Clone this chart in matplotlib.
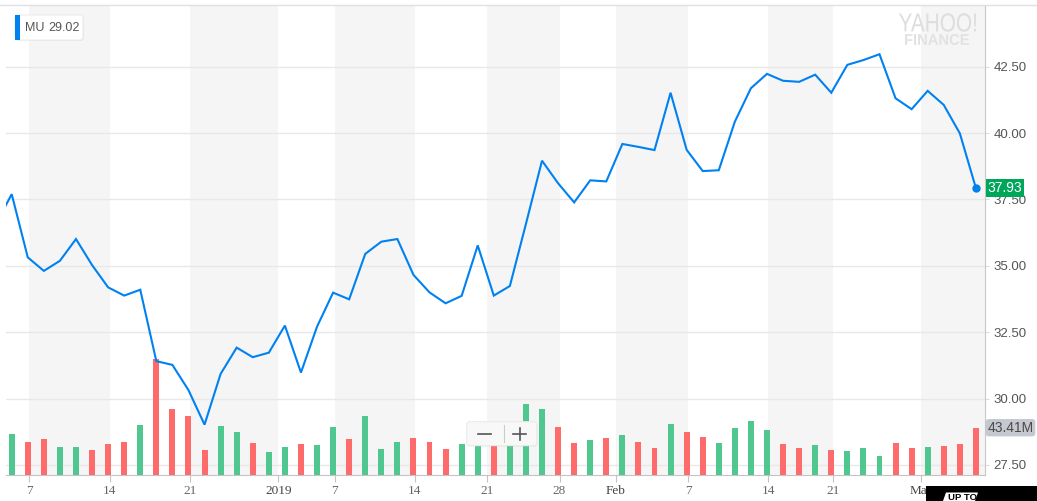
import matplotlib
matplotlib.use("Agg")
import matplotlib.pyplot as plt
import numpy as np
import pandas as pd
from matplotlib.patches import FancyBboxPatch, Rectangle, PathPatch, Polygon
from matplotlib.lines import Line2D
from matplotlib.textpath import TextPath
from matplotlib.font_manager import FontProperties
from matplotlib.transforms import IdentityTransform, Affine2D

# --- data (MU daily close / volume) ---
closed = ["2018-12-05", "2018-12-25", "2019-01-01", "2019-01-21", "2019-02-18"]
dates = pd.bdate_range("2018-12-04", "2019-03-06")
dates = dates[~dates.isin(pd.to_datetime(closed))]

close = [36.55, 37.70, 35.32, 34.81, 35.19, 36.01, 35.03, 34.19, 33.88, 34.10,
         31.41, 31.27, 30.32, 29.02, 30.93, 31.92, 31.56, 31.73, 32.75, 30.98,
         32.71, 33.99, 33.74, 35.45, 35.91, 36.01, 34.66, 34.00, 33.59, 33.87,
         35.77, 33.88, 34.24, 36.58, 38.96, 38.11, 37.39, 38.22, 38.18, 39.59,
         39.48, 39.36, 41.52, 39.37, 38.57, 38.60, 40.43, 41.69, 42.23, 41.97,
         41.93, 42.20, 41.52, 42.57, 42.75, 42.97, 41.31, 40.90, 41.59, 41.06,
         39.99, 37.93]

# volume in millions, from Dec 6 on (Dec 4 bar is off the left edge)
volume = [37.4, 30.6, 33.3, 26.0, 26.0, 23.2, 28.7, 30.6, 46.2, 106.7,
          60.9, 54.4, 23.2, 45.2, 39.7, 29.6, 21.4, 26.0, 28.7, 27.8,
          44.3, 33.3, 54.4, 24.1, 30.6, 34.2, 30.6, 24.1, 28.7, 34.9,
          32.1, 35.8, 65.4, 60.9, 44.3, 29.6, 32.4, 34.2, 37.0, 30.6,
          25.1, 47.1, 39.7, 35.2, 29.6, 43.4, 49.8, 41.6, 28.7, 25.1,
          27.8, 23.2, 22.3, 25.1, 17.7, 29.6, 25.1, 26.0, 26.9, 28.7,
          43.41]

tick_dates = ["2018-12-07", "2018-12-14", "2018-12-21", "2019-01-01", "2019-01-07",
              "2019-01-14", "2019-01-21", "2019-01-28", "2019-02-01", "2019-02-07",
              "2019-02-14", "2019-02-21", "2019-03-01"]
tick_labels = ["7", "14", "21", "2019", "7", "14", "21", "28", "Feb", "7", "14", "21", "Mar"]

ticker = "MU"
ref_price = 29.02

# --- layout (pixels) ---
W, H = 1037, 501
L, R, T, B = 6, 985, 4.7, 475
fig = plt.figure(figsize=(W / 100, H / 100), dpi=100)
rect = [L / W, 1 - B / H, (R - L) / W, (B - T) / H]

x0_px, step_px = 11.7, 16.07          # where dates[1] sits, and px per session
xlim = (1 - (x0_px - L) / step_px, 1 + (R - x0_px) / step_px)
ylim = (27.123, 44.835)
vol_top = 431.6

BLUE = "#0081f2"
GREEN = "#4fc78e"
RED = "#fe6b6b"
txt_sans = "Liberation Sans"
txt_serif = "Liberation Serif"

xs = np.arange(len(dates))


def tick_pos(d, label):
    d = pd.Timestamp(d)
    i = dates.searchsorted(d)
    if (not label.isdigit()) or len(label) == 4 or d not in dates:
        return i - 0.5
    return float(i)


tpos = np.array([tick_pos(d, l) for d, l in zip(tick_dates, tick_labels)]) + 0.09

# base axes: bands, grid, ticks
ax = fig.add_axes(rect)
ax.set_xlim(xlim)
ax.set_ylim(ylim)
for k in range(0, len(tpos), 2):
    end = tpos[k + 1] if k + 1 < len(tpos) else xlim[1]
    ax.axvspan(tpos[k], end, color="#f5f5f5", lw=0, zorder=0)

# volume axes (under the price line)
axv = ax.twinx()
axv.set_ylim(0, vol_top)
up = np.diff(close) >= 0
axv.bar(xs[1:], volume, width=0.37, color=np.where(up, GREEN, RED), lw=0)
axv.axis("off")
axv.text(1.0 + 2.5 / (R - L), volume[-1], f"{volume[-1]:.2f}M", transform=axv.get_yaxis_transform(),
         ha="left", va="center", fontsize=10, color="#4a4a4a", family=txt_sans,
         bbox=dict(boxstyle="round,pad=0.12,rounding_size=0.2", fc="#c5c8cf", ec="none"))

# price line axes
axl = ax.twinx()
axl.set_ylim(ylim)
axl.set_xlim(xlim)
axl.plot(xs, close, color=BLUE, lw=1.5, solid_joinstyle="miter")
axl.plot(xs[-1], close[-1], "o", color=BLUE, ms=6, mew=0)
axl.axis("off")
axl.text(1.0 + 2.5 / (R - L), close[-1], f"{close[-1]:.2f}", transform=axl.get_yaxis_transform(),
         ha="left", va="center", fontsize=10, color="white", family=txt_sans,
         bbox=dict(boxstyle="square,pad=0.12", fc="#00a65a", ec="none"))

# ticks of the base axes (after twinx, which moves them left)
ax.set_yticks(np.arange(27.5, 43, 2.5))
ax.yaxis.set_major_formatter(matplotlib.ticker.FormatStrFormatter("%.2f"))
ax.yaxis.tick_right()
ax.grid(axis="y", color="#e8e8e8", lw=1)
ax.set_axisbelow(True)
ax.tick_params(axis="y", length=3, color="#dcdcdc", pad=3, labelsize=9.5,
               labelcolor="#555555")
for lab in ax.get_yticklabels():
    lab.set_fontfamily(txt_sans)

ax.set_xticks(tpos)
ax.set_xticklabels(tick_labels)
ax.tick_params(axis="x", length=5, color="#c4c4c4", pad=2.5, labelsize=9.5)
for lab in ax.get_xticklabels():
    t = lab.get_text()
    lab.set_fontfamily(txt_serif)
    lab.set_color("#444444" if (not t.isdigit()) or len(t) == 4 else "#666666")

for s in ["left", "top"]:
    ax.spines[s].set_visible(False)
ax.spines["right"].set_color("#c8c8c8")
ax.spines["bottom"].set_color("#c4c4c4")

# --- decorations in pixel space ---
ID = IdentityTransform()


def box(x0, y0, x1, y1, **kw):
    return Rectangle((x0, H - y1), x1 - x0, y1 - y0, transform=ID, **kw)


# top border
fig.add_artist(Line2D([0, W], [H - T, H - T], transform=ID, color="#dfe0e5", lw=1))

# legend chip
fig.add_artist(FancyBboxPatch((16, H - 41), 68, 25, boxstyle="round,pad=0,rounding_size=3",
                              transform=ID, fc="#000000", alpha=0.06, ec="none"))
fig.add_artist(FancyBboxPatch((15, H - 40), 68, 25, boxstyle="round,pad=0,rounding_size=3",
                              transform=ID, fc="white", ec="#ececec", lw=0.8))
fig.add_artist(box(15, 15, 19.5, 40, fc=BLUE, ec="none"))
fig.text(25 / W, 1 - 28 / H, ticker, fontsize=9, color="#555555", family=txt_sans, va="center")
fig.text(48.5 / W, 1 - 28 / H, f"{ref_price:.2f}", fontsize=9, color="#555555",
         family=txt_sans, va="center")


def fitted_text(s, x0, x1, ytop, ybot, weight, color):
    tp = TextPath((0, 0), s, size=100, prop=FontProperties(family=txt_sans, weight=weight))
    ext = tp.get_extents()
    sx = (x1 - x0) / ext.width
    sy = (ybot - ytop) / ext.height
    tr = Affine2D().translate(-ext.x0, -ext.y0).scale(sx, sy).translate(x0, H - ybot)
    fig.add_artist(PathPatch(tr.transform_path(tp), transform=ID, fc=color, ec="none"))


fitted_text("YAHOO!", 899, 976, 13.3, 31.7, "normal", "#dddddd")
fitted_text("FINANCE", 905, 969, 34, 45, "bold", "#e2e2e2")

# zoom control
fig.add_artist(FancyBboxPatch((467.5, H - 446.7), 70, 24, boxstyle="round,pad=0,rounding_size=3",
                              transform=ID, fc="#000000", alpha=0.05, ec="none"))
fig.add_artist(FancyBboxPatch((466.7, H - 445.7), 70, 24, boxstyle="round,pad=0,rounding_size=3",
                              transform=ID, fc="#f8f8f8", ec="#ebebeb", lw=0.8))
fig.add_artist(Line2D([477.7, 491], [H - 433.5] * 2, transform=ID, color="#555555", lw=1.2))
fig.add_artist(Line2D([504, 504], [H - 425, H - 441.7], transform=ID, color="#cccccc", lw=0.8))
fig.add_artist(Line2D([513.3, 526], [H - 433.5] * 2, transform=ID, color="#555555", lw=1.2))
fig.add_artist(Line2D([519.7, 519.7], [H - 427.5, H - 439.5], transform=ID, color="#555555", lw=1.2))

# ad strip in the bottom right corner
fig.add_artist(box(926, 486, W, H, fc="black", ec="none"))
fig.add_artist(Polygon([(946, H - 492.5), (978, H - 492.5), (975, 0), (943, 0)],
                       closed=True, transform=ID, fc="white", ec="none"))
fig.text(947.5 / W, 1 - 502 / H, "UP TO", fontsize=6.8, fontweight="bold", color="black",
         family=txt_sans, va="bottom")

fig.savefig("out.png", dpi=100)
